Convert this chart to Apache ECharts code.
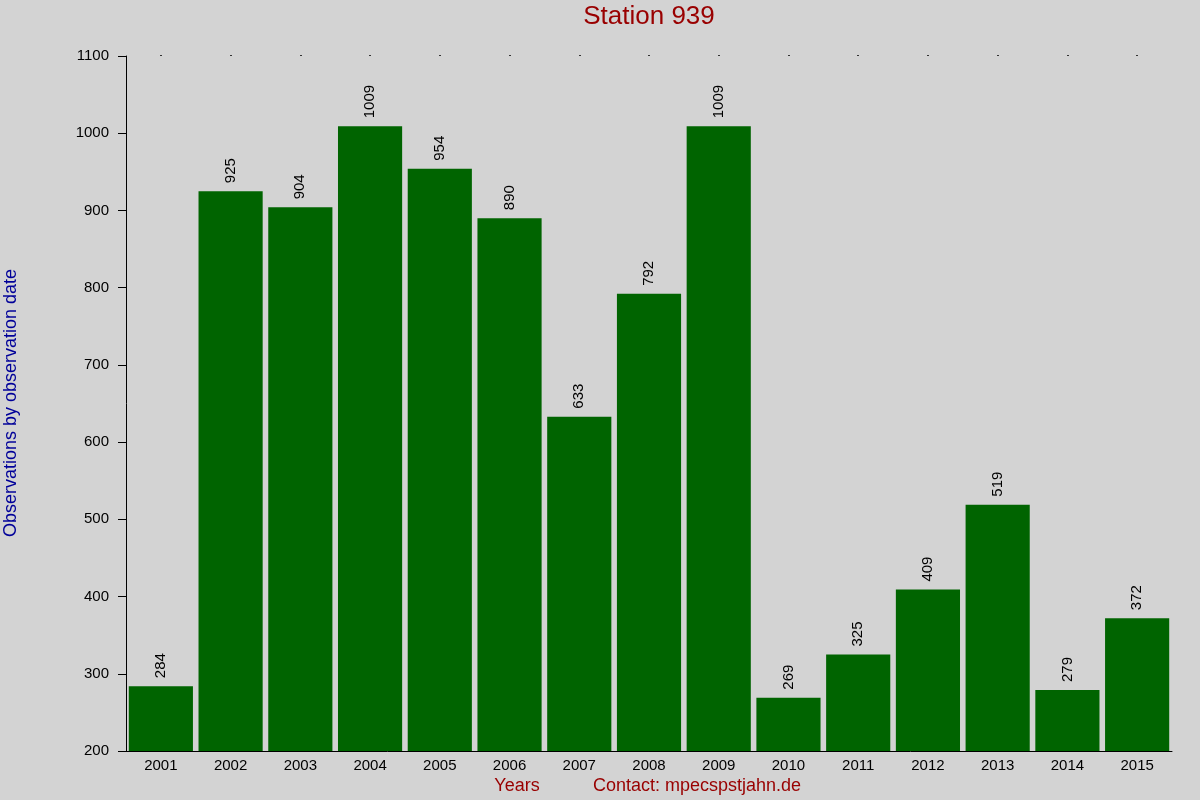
<!DOCTYPE html>
<html lang="en">
<head>
    <meta charset="UTF-8">
    <title>Station 939</title>
    <script src="https://cdn.jsdelivr.net/npm/echarts@6/dist/echarts.min.js"></script>
    <style>
        html, body { margin: 0; padding: 0; background: #d3d3d3; }
    </style>
</head>
<body>
<div id="chart-container" style="width: 1200px;height: 800px;"></div>
</body>
<script type="text/javascript">
    // data
    var years = ['2001', '2002', '2003', '2004', '2005', '2006', '2007', '2008',
        '2009', '2010', '2011', '2012', '2013', '2014', '2015'];
    var observations = [284, 925, 904, 1009, 954, 890, 633, 792, 1009, 269, 325, 409, 519, 279, 372];

    var fontFamily = '"Liberation Sans", Arial, sans-serif';
    var myChart = echarts.init(document.getElementById('chart-container'));

    var option = {
        backgroundColor: '#d3d3d3',
        animation: false,
        textStyle: { fontFamily: fontFamily },
        grid: { left: 126, right: 28, top: 56, bottom: 49 },
        graphic: [
            {
                type: 'text', x: 649, y: 17,
                style: { text: 'Station 939', fill: '#990000', font: '26px ' + fontFamily, align: 'center', verticalAlign: 'middle' }
            },
            {
                type: 'text', x: 517, y: 786,
                style: { text: 'Years', fill: '#990000', font: '18px ' + fontFamily, align: 'center', verticalAlign: 'middle' }
            },
            {
                type: 'text', x: 697, y: 786,
                style: { text: 'Contact: mpecspstjahn.de', fill: '#990000', font: '18px ' + fontFamily, align: 'center', verticalAlign: 'middle' }
            },
            {
                type: 'text', x: 11, y: 403, rotation: Math.PI / 2,
                style: { text: 'Observations by observation date', fill: '#000099', font: '18px ' + fontFamily, align: 'center', verticalAlign: 'middle' }
            }
        ],
        xAxis: [
            {
                type: 'category',
                data: years,
                axisLine: { show: true, lineStyle: { color: '#000', width: 1 } },
                axisTick: { show: false },
                axisLabel: { color: '#000', fontSize: 15, margin: 7 },
                splitLine: { show: false }
            },
            {
                // dots along the top edge
                type: 'category',
                position: 'top',
                data: years,
                axisLine: { show: false },
                axisTick: { show: true, alignWithLabel: true, length: 1, lineStyle: { color: '#000', width: 1.5 } },
                axisLabel: { show: false },
                splitLine: { show: false }
            }
        ],
        yAxis: {
            type: 'value',
            min: 200,
            max: 1100,
            interval: 100,
            axisLine: { show: true, lineStyle: { color: '#000', width: 1 } },
            axisTick: { show: true, length: 8, lineStyle: { color: '#000' } },
            axisLabel: {
                color: '#000', fontSize: 15, margin: 17,
                formatter: function (v) { return String(v); }
            },
            splitLine: { show: false }
        },
        series: [
            {
                type: 'bar',
                data: observations,
                barCategoryGap: '8%',
                itemStyle: { color: '#006400' },
                label: {
                    show: true,
                    position: 'top',
                    rotate: 90,
                    align: 'left',
                    verticalAlign: 'middle',
                    distance: 8,
                    color: '#000',
                    fontSize: 15
                }
            }
        ]
    };

    myChart.setOption(option);
</script>
</html>
